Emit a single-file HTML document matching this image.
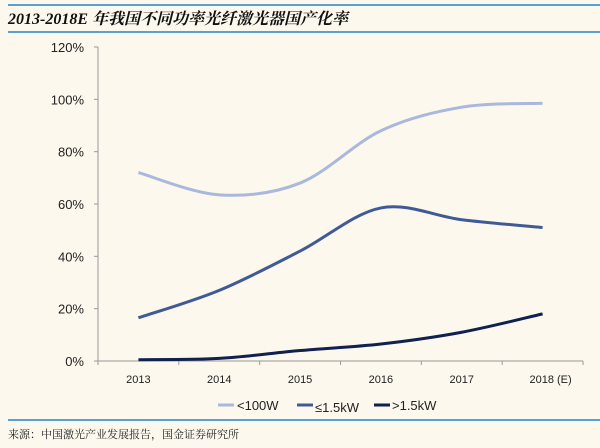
<!DOCTYPE html>
<html><head><meta charset="utf-8"><style>
body{margin:0;background:#fdf8ee;}
svg{display:block;font-family:"Liberation Sans","Noto Sans CJK SC",sans-serif;}
</style></head><body>
<svg width="600" height="448">
<rect width="600" height="448" fill="#fdf8ee"/>
<line x1="8" y1="5" x2="600" y2="5" stroke="#5aa0d0" stroke-width="2"/>
<text x="8" y="24" font-family="Liberation Serif,Noto Serif CJK SC,serif" font-weight="bold" font-style="italic" font-size="16" fill="#111">2013-2018E 年我国不同功率光纤激光器国产化率</text>
<line x1="8" y1="32" x2="600" y2="32" stroke="#5aa0d0" stroke-width="2"/>
<g id="axes"></g>
<g id="series"></g>
<g>
<line x1="218" y1="405" x2="234" y2="405" stroke="#a9b8dc" stroke-width="3"/>
<text x="237" y="410" font-size="13" fill="#222">&lt;100W</text>
<line x1="297" y1="405" x2="313" y2="405" stroke="#3f5a96" stroke-width="3"/>
<text x="315" y="412" font-size="13" fill="#222">≤1.5kW</text>
<line x1="374" y1="405" x2="390" y2="405" stroke="#10204f" stroke-width="3"/>
<text x="392" y="410" font-size="13" fill="#222">&gt;1.5kW</text>
</g>
<line x1="8" y1="420" x2="600" y2="420" stroke="#5aa0d0" stroke-width="2"/>
<text x="8" y="438" font-family="Noto Serif CJK SC,serif" font-size="11" fill="#222">来源：中国激光产业发展报告，国金证券研究所</text>
</svg>
<script>
const categories=["2013","2014","2015","2016","2017","2018 (E)"];
const seriesLt100W=[72,63.5,68,88,97,98.5];
const seriesLe15kW=[16.5,27,42,58.5,54,51];
const seriesGt15kW=[0.5,1,4,6.5,11,18];
const yTicks=[0,20,40,60,80,100,120];
const NS="http://www.w3.org/2000/svg";
const x0=98,x1=583,yb=361,yt=47;
const bw=(x1-x0)/categories.length;
const xs=i=>x0+bw*(i+0.5);
const ys=v=>yb-(v/120)*(yb-yt);
function mk(t,a,p){const e=document.createElementNS(NS,t);for(const k in a)e.setAttribute(k,a[k]);p.appendChild(e);return e;}
const ax=document.getElementById('axes');
const yl=mk('line',{x1:x0,y1:yt,x2:x0,y2:yb,stroke:'#999'},ax);


const xl=mk('line',{x1:x0,y1:yb,x2:x1,y2:yb,stroke:'#999'},ax);


yTicks.forEach(v=>{
 mk('line',{x1:x0-4,y1:ys(v),x2:x0,y2:ys(v),stroke:'#999'},ax);
 const t=mk('text',{x:84,y:ys(v)+5,'text-anchor':'end','font-size':13,fill:'#222'},ax);
 t.textContent=v+'%';
 
 
});
for(let i=0;i<=categories.length;i++){mk('line',{x1:x0+bw*i,y1:yb,x2:x0+bw*i,y2:yb+4,stroke:'#999'},ax);}
categories.forEach((c,i)=>{
 const t=mk('text',{x:xs(i)+(i==5?8:0),y:383,'text-anchor':'middle','font-size':11,fill:'#222'},ax);
 t.textContent=c;
 
 
});
function path(vals){
 const p=vals.map((v,i)=>[xs(i),ys(v)]);
 let d='M'+p[0][0]+','+p[0][1];
 for(let i=0;i<p.length-1;i++){
  const a=p[Math.max(i-1,0)],b=p[i],c=p[i+1],e=p[Math.min(i+2,p.length-1)];
  d+=` C${b[0]+(c[0]-a[0])/6},${b[1]+(c[1]-a[1])/6} ${c[0]-(e[0]-b[0])/6},${c[1]-(e[1]-b[1])/6} ${c[0]},${c[1]}`;
 }
 return d;
}
const sg=document.getElementById('series');
[[seriesLt100W,'#a9b8dc','line-lt100w'],[seriesLe15kW,'#3f5a96','line-le1.5kw'],[seriesGt15kW,'#10204f','line-gt1.5kw']].forEach(([v,c,n])=>{
 const e=mk('path',{d:path(v),fill:'none',stroke:c,'stroke-width':3},sg);
 
 
});
</script>
</body></html>
